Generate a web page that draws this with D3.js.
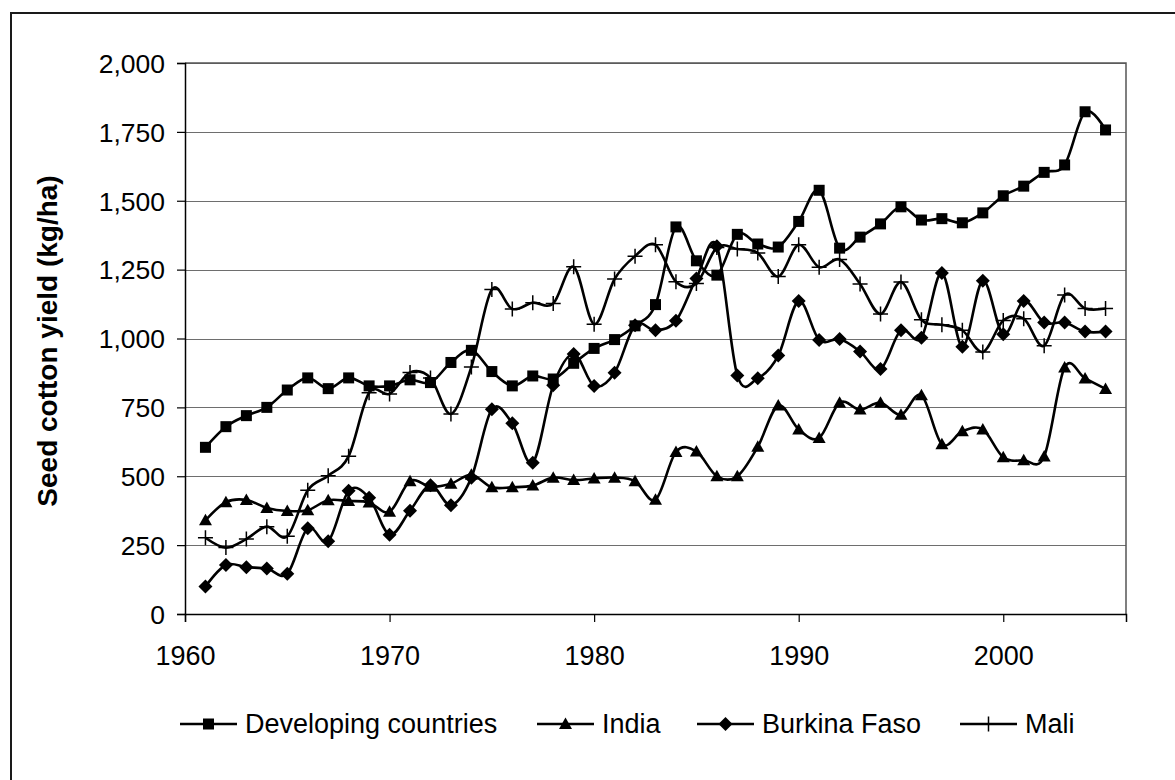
<!DOCTYPE html>
<html>
<head>
<meta charset="utf-8">
<script src="https://cdn.jsdelivr.net/npm/d3@7"></script>
<style>
  html, body { margin: 0; padding: 0; background: #fff; }
  svg { display: block; }
  text { font-family: "Liberation Sans", Arial, sans-serif; fill: #000; }
</style>
</head>
<body>
<svg id="chart" width="1175" height="780"></svg>
<script>
const years = d3.range(1961, 2006);
const developing = [605,680,720,750,813,857,818,857,828,828,850,840,913,957,880,828,864,853,910,964,996,1046,1123,1405,1282,1230,1378,1343,1332,1425,1538,1328,1368,1416,1478,1430,1435,1420,1456,1518,1553,1603,1630,1823,1757];
const india = [340,406,414,385,374,377,413,410,405,371,482,462,473,505,460,460,466,495,486,492,495,482,415,588,590,500,500,607,757,670,639,767,742,767,723,794,616,663,670,569,558,572,895,855,817];
const burkina = [100,178,170,165,146,311,264,447,422,288,375,467,395,495,743,692,549,830,944,828,876,1048,1030,1064,1218,1335,866,856,938,1136,995,998,953,889,1030,1003,1238,970,1210,1015,1136,1058,1058,1025,1025];
const mali = [277,241,272,317,282,449,502,573,803,799,877,857,726,897,1178,1107,1130,1127,1260,1052,1216,1299,1340,1206,1200,1330,1325,1310,1225,1340,1259,1287,1198,1089,1205,1068,1050,1030,951,1065,1072,974,1158,1109,1109];
const seriesNames = ["Developing countries", "India", "Burkina Faso", "Mali"];
const markerTypes = ["square", "triangle", "diamond", "plus"];
const xTickValues = [1960, 1970, 1980, 1990, 2000];
const yTickValues = [0, 250, 500, 750, 1000, 1250, 1500, 1750, 2000];
const yAxisTitle = "Seed cotton yield (kg/ha)";

(function () {
const svg = d3.select("#chart");
const pLeft = 185, pRight = 1126, pTop = 63, pBottom = 614;
const x = d3.scaleLinear().domain([1960, 2006]).range([pLeft, pRight]);
const y = d3.scaleLinear().domain([0, 2000]).range([pBottom, pTop]);

// outer chart frame (right/bottom edges fall outside the picture)
svg.append("rect").attr("x", 11).attr("y", 13).attr("width", 1300).attr("height", 900)
  .attr("fill", "none").attr("stroke", "#1a1a1a").attr("stroke-width", 2);

// gridlines
svg.append("g").selectAll("line").data(yTickValues.filter(v => v > 0)).join("line")
  .attr("x1", pLeft).attr("x2", pRight)
  .attr("y1", d => Math.round(y(d)) + 0.5).attr("y2", d => Math.round(y(d)) + 0.5)
  .attr("stroke", "#6e6e6e").attr("stroke-width", 1.2);

// plot area border (top/right)
svg.append("path")
  .attr("d", `M${pLeft},${y(2000)}H${pRight}V${pBottom}`)
  .attr("fill", "none").attr("stroke", "#555").attr("stroke-width", 1.5);

// y axis
const yAxis = d3.axisLeft(y).tickValues(yTickValues).tickSize(8).tickPadding(12)
  .tickFormat(d3.format(","));
const gy = svg.append("g").attr("transform", `translate(${pLeft},0)`).call(yAxis);
gy.select(".domain").attr("stroke", "#000").attr("stroke-width", 1.5);
gy.selectAll(".tick line").attr("stroke", "#000").attr("stroke-width", 1.2);
gy.selectAll(".tick text").attr("font-size", 26.5).attr("font-family", "Liberation Sans, Arial, sans-serif").attr("dy", "0.35em");

// x axis
const xAxis = d3.axisBottom(x).tickValues(xTickValues).tickSize(8).tickPadding(24)
  .tickFormat(d3.format("d"));
const gx = svg.append("g").attr("transform", `translate(0,${pBottom})`).call(xAxis);
gx.select(".domain").attr("stroke", "#000").attr("stroke-width", 1.5);
gx.selectAll(".tick line").attr("stroke", "#000").attr("stroke-width", 1.2);
gx.selectAll(".tick text").attr("font-size", 27).attr("font-family", "Liberation Sans, Arial, sans-serif").attr("dy", "0.71em");

// y axis title
svg.append("text")
  .attr("transform", `translate(57,341) rotate(-90)`)
  .attr("text-anchor", "middle")
  .attr("font-size", 28).attr("font-weight", "bold")
  .text(yAxisTitle);

function drawMarker(g, type) {
  if (type === "square") {
    g.append("rect").attr("x", -5.5).attr("y", -5.5).attr("width", 11).attr("height", 11).attr("fill", "#000");
  } else if (type === "triangle") {
    g.append("path").attr("d", "M0,-6.5L6.5,5L-6.5,5Z").attr("fill", "#000");
  } else if (type === "diamond") {
    g.append("path").attr("d", "M0,-7L7,0L0,7L-7,0Z").attr("fill", "#000");
  } else {
    g.append("path").attr("d", "M-7.5,0H7.5M0,-7.5V7.5").attr("stroke", "#000").attr("stroke-width", 1.5).attr("fill", "none");
  }
}

const allSeries = [developing, india, burkina, mali];
const line = d3.line().x((d, i) => x(years[i])).y(d => y(d)).curve(d3.curveCatmullRom.alpha(0));

allSeries.forEach((vals, si) => {
  const g = svg.append("g");
  g.append("path").datum(vals).attr("d", line)
    .attr("fill", "none").attr("stroke", "#000").attr("stroke-width", 2.6).attr("stroke-linejoin", "round");
  g.selectAll("g.m").data(vals).join("g").attr("class", "m")
    .attr("transform", (d, i) => `translate(${x(years[i])},${y(d)})`)
    .each(function () { drawMarker(d3.select(this), markerTypes[si]); });
});

// legend
const legendX = [180, 537, 697, 960];
const legendY = 724;
seriesNames.forEach((name, i) => {
  const g = svg.append("g").attr("transform", `translate(${legendX[i]},${legendY})`);
  g.append("line").attr("x1", 0).attr("x2", 57).attr("y1", 0).attr("y2", 0)
    .attr("stroke", "#000").attr("stroke-width", 2.6);
  drawMarker(g.append("g").attr("transform", "translate(28.5,0)"), markerTypes[i]);
  g.append("text").attr("x", 65).attr("y", 0).attr("dy", "0.35em")
    .attr("font-size", 27).text(name);
});
})();
</script>
</body>
</html>
